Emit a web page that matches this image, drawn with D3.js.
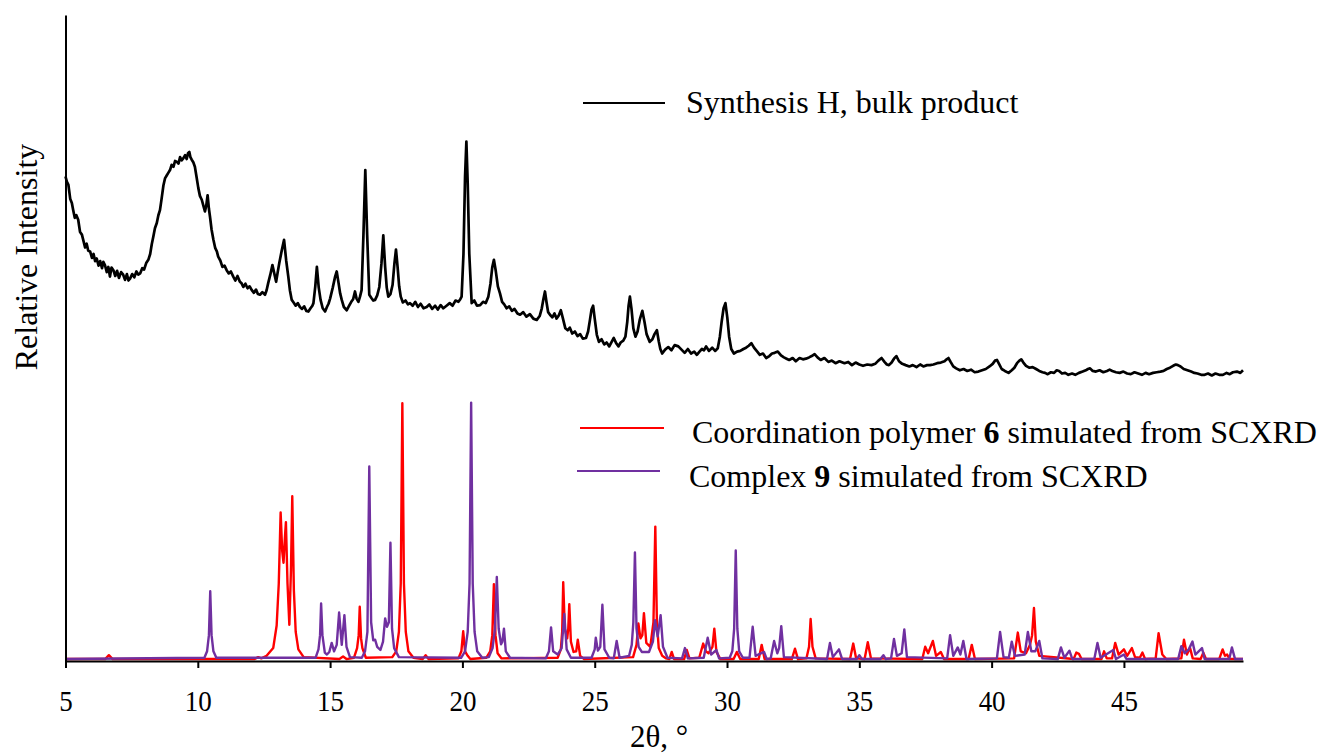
<!DOCTYPE html>
<html>
<head>
<meta charset="utf-8">
<script src="https://cdn.jsdelivr.net/npm/d3@7"></script>
<style>
  body { margin: 0; background: #fff; }
  svg text { font-family: "Liberation Serif", "Times New Roman", serif; fill: #000; }
</style>
</head>
<body>
<svg id="chart" width="1321" height="753"></svg>
<script>
// 2theta tick labels
const xTicks = [5, 10, 15, 20, 25, 30, 35, 40, 45];

// bulk product (measured), [2theta, relative intensity]
const bulkH = [
  [5.00,75.0],[5.05,74.2],[5.11,73.7],[5.18,71.5],[5.24,70.9],[5.29,69.8],[5.35,68.6],[5.41,69.0],[5.48,68.3],[5.55,66.4],
  [5.62,66.0],[5.67,65.2],[5.74,64.0],[5.80,64.6],[5.86,63.5],[5.93,63.4],[6.00,62.4],[6.06,63.0],[6.12,61.9],[6.18,62.3],
  [6.25,61.2],[6.31,61.9],[6.38,60.8],[6.43,61.8],[6.49,61.3],[6.56,60.2],[6.62,61.0],[6.68,59.5],[6.74,60.9],[6.81,60.5],
  [6.88,59.6],[6.95,60.4],[7.02,59.3],[7.10,60.2],[7.18,59.8],[7.25,59.0],[7.32,59.9],[7.38,58.9],[7.44,59.2],[7.52,59.9],
  [7.60,59.4],[7.68,60.3],[7.75,59.8],[7.82,60.0],[7.90,60.8],[7.97,60.6],[8.05,61.6],[8.13,62.1],[8.20,63.0],[8.26,64.5],
  [8.32,65.7],[8.38,67.0],[8.45,67.8],[8.51,69.0],[8.57,69.8],[8.63,71.5],[8.70,73.6],[8.76,74.7],[8.83,75.2],[8.89,75.6],
  [8.95,76.0],[9.01,76.8],[9.08,76.5],[9.14,77.4],[9.20,77.3],[9.27,77.0],[9.33,78.0],[9.39,77.5],[9.45,77.8],[9.52,78.3],
  [9.58,77.7],[9.63,78.6],[9.68,78.8],[9.72,78.0],[9.77,77.6],[9.83,77.2],[9.89,76.5],[9.95,75.0],[10.02,73.2],[10.08,72.0],
  [10.15,71.4],[10.21,70.5],[10.27,69.6],[10.32,70.5],[10.37,72.1],[10.42,70.0],[10.46,68.8],[10.52,66.8],[10.59,65.2],[10.66,63.9],
  [10.72,63.4],[10.77,62.6],[10.85,62.0],[10.93,61.0],[11.01,61.2],[11.09,60.5],[11.17,60.0],[11.25,60.3],[11.34,59.5],[11.42,58.9],
  [11.50,59.6],[11.59,58.7],[11.65,58.5],[11.72,57.9],[11.80,58.4],[11.88,57.7],[11.96,58.0],[12.04,57.4],[12.12,57.0],[12.20,57.5],
  [12.27,56.8],[12.35,56.7],[12.44,57.1],[12.54,56.7],[12.60,57.4],[12.66,58.5],[12.74,59.8],[12.82,61.3],[12.89,60.0],[12.96,58.7],
  [13.02,60.2],[13.08,61.6],[13.17,63.5],[13.26,65.2],[13.34,62.0],[13.42,59.5],[13.48,57.4],[13.55,55.9],[13.62,55.5],[13.70,55.0],
  [13.78,55.4],[13.86,54.8],[13.94,54.5],[14.02,54.9],[14.10,54.2],[14.18,54.1],[14.26,54.6],[14.33,55.0],[14.37,55.4],[14.44,58.0],
  [14.50,61.0],[14.57,57.8],[14.64,55.9],[14.72,54.6],[14.81,54.1],[14.88,54.8],[14.94,55.3],[15.00,56.1],[15.10,57.8],[15.19,59.5],
  [15.25,60.3],[15.32,58.5],[15.38,56.9],[15.44,55.9],[15.52,54.8],[15.63,54.3],[15.72,55.0],[15.80,55.6],[15.87,56.0],[15.94,57.2],
  [16.00,56.1],[16.07,55.6],[16.13,56.4],[16.19,57.4],[16.26,66.0],[16.33,76.0],[16.40,66.0],[16.48,56.7],[16.56,56.2],[16.63,55.8],
  [16.70,55.9],[16.78,56.6],[16.86,57.9],[16.94,61.5],[17.01,65.9],[17.08,61.0],[17.14,57.8],[17.20,56.4],[17.28,56.8],[17.36,58.2],
  [17.43,61.5],[17.49,63.7],[17.55,61.0],[17.61,58.0],[17.67,56.4],[17.75,55.5],[17.85,55.8],[17.94,55.2],[18.02,55.4],[18.12,55.0],
  [18.22,55.6],[18.32,54.8],[18.42,55.3],[18.53,54.6],[18.65,54.8],[18.75,55.2],[18.86,54.5],[18.97,55.0],[19.07,54.4],[19.18,55.1],
  [19.28,54.6],[19.40,55.0],[19.52,55.4],[19.63,55.0],[19.74,55.8],[19.85,55.6],[19.92,56.0],[19.97,56.4],[20.04,63.0],[20.10,75.0],
  [20.15,80.4],[20.20,74.0],[20.26,63.0],[20.35,55.4],[20.45,55.8],[20.55,55.0],[20.67,55.1],[20.78,55.6],[20.88,55.4],[20.98,56.4],
  [21.06,58.4],[21.13,61.0],[21.19,62.1],[21.26,60.4],[21.34,58.0],[21.42,56.9],[21.50,55.6],[21.58,55.2],[21.67,54.6],[21.77,54.9],
  [21.87,54.2],[21.97,54.5],[22.08,53.8],[22.18,53.6],[22.30,54.0],[22.42,53.3],[22.55,53.7],[22.68,53.0],[22.81,52.8],[22.92,53.4],
  [23.00,54.6],[23.06,56.0],[23.12,57.2],[23.18,55.5],[23.24,54.0],[23.31,53.6],[23.40,53.2],[23.48,53.8],[23.56,53.0],[23.64,53.5],
  [23.72,54.3],[23.80,53.0],[23.89,51.5],[23.98,51.2],[24.06,51.6],[24.15,50.7],[24.25,51.0],[24.35,50.3],[24.45,50.6],[24.55,49.9],
  [24.67,50.0],[24.75,51.0],[24.82,52.8],[24.88,54.4],[24.94,55.0],[25.00,53.0],[25.08,50.5],[25.16,49.4],[25.26,49.8],[25.36,49.0],
  [25.45,49.3],[25.55,48.7],[25.64,49.4],[25.72,50.0],[25.81,49.2],[25.90,48.7],[25.98,49.3],[26.08,49.6],[26.16,50.2],[26.23,52.5],
  [26.28,55.0],[26.33,56.4],[26.39,54.5],[26.46,51.5],[26.54,50.2],[26.62,51.0],[26.70,52.8],[26.80,54.2],[26.88,52.5],[26.96,50.6],
  [27.08,49.4],[27.18,49.8],[27.26,50.6],[27.35,51.2],[27.42,49.5],[27.48,48.3],[27.55,47.6],[27.66,48.2],[27.78,48.6],[27.90,48.1],
  [28.02,48.9],[28.16,48.7],[28.28,48.2],[28.40,47.7],[28.52,48.3],[28.64,47.6],[28.76,47.9],[28.86,47.4],[28.96,47.9],[29.05,48.3],
  [29.13,48.1],[29.21,48.7],[29.32,48.0],[29.44,48.5],[29.55,48.0],[29.65,48.4],[29.73,50.2],[29.80,52.6],[29.87,54.6],[29.94,55.4],
  [30.01,53.2],[30.08,50.2],[30.16,48.3],[30.26,47.6],[30.38,47.9],[30.50,48.0],[30.62,48.3],[30.72,48.5],[30.82,48.8],[30.92,49.2],
  [31.02,48.5],[31.12,48.0],[31.24,47.4],[31.36,47.6],[31.48,46.9],[31.60,47.2],[31.70,47.6],[31.80,47.7],[31.92,47.9],[32.04,47.3],
  [32.15,47.0],[32.25,46.8],[32.35,46.6],[32.48,46.9],[32.60,46.4],[32.74,46.9],[32.87,46.7],[32.98,46.8],[33.10,47.0],[33.20,47.2],
  [33.31,47.5],[33.42,47.0],[33.54,46.6],[33.68,46.9],[33.83,46.3],[33.96,46.5],[34.10,46.1],[34.25,46.4],[34.44,46.1],[34.58,46.3],
  [34.72,45.8],[34.86,46.2],[35.00,45.9],[35.14,45.7],[35.30,45.9],[35.46,45.8],[35.60,46.0],[35.72,46.5],[35.84,46.9],[35.95,46.3],
  [36.04,45.9],[36.12,45.8],[36.22,46.2],[36.31,46.8],[36.40,47.2],[36.50,46.4],[36.62,46.0],[36.75,45.8],[36.89,45.6],[37.02,45.8],
  [37.16,45.5],[37.30,45.9],[37.42,45.6],[37.56,45.8],[37.67,45.8],[37.80,45.9],[37.94,46.1],[38.08,46.2],[38.22,46.4],[38.30,46.7],
  [38.37,46.9],[38.45,46.3],[38.55,45.6],[38.66,45.3],[38.80,45.0],[38.94,45.2],[39.08,44.9],[39.22,45.1],[39.36,44.7],[39.50,44.8],
  [39.64,45.0],[39.78,45.2],[39.92,45.6],[40.04,46.0],[40.13,46.5],[40.20,46.6],[40.28,46.0],[40.38,45.2],[40.50,44.9],[40.64,44.6],
  [40.76,45.0],[40.86,45.4],[40.96,46.1],[41.05,46.5],[41.12,46.7],[41.20,46.2],[41.30,45.7],[41.42,45.4],[41.55,45.5],[41.68,45.2],
  [41.80,44.9],[41.92,44.7],[42.02,44.6],[42.12,44.4],[42.24,44.7],[42.36,44.6],[42.46,45.0],[42.55,44.9],[42.66,44.5],[42.78,44.6],
  [42.90,44.3],[43.04,44.5],[43.16,44.3],[43.30,44.6],[43.44,44.8],[43.56,45.0],[43.64,45.2],[43.72,45.3],[43.82,44.9],[43.94,44.8],
  [44.08,45.0],[44.22,44.7],[44.36,44.9],[44.46,45.1],[44.56,44.9],[44.70,44.7],[44.84,44.6],[44.98,44.8],[45.12,44.5],[45.26,44.4],
  [45.40,44.7],[45.54,44.5],[45.68,44.3],[45.82,44.6],[45.95,44.4],[46.10,44.6],[46.24,44.7],[46.38,44.8],[46.50,44.9],[46.62,45.2],
  [46.74,45.4],[46.86,45.7],[46.96,45.9],[47.04,45.8],[47.14,45.6],[47.26,45.2],[47.40,45.0],[47.54,44.8],[47.66,44.6],[47.78,44.5],
  [47.92,44.3],[48.05,44.3],[48.18,44.5],[48.32,44.2],[48.46,44.5],[48.60,44.3],[48.74,44.3],[48.88,44.6],[49.00,44.4],[49.12,44.7],
  [49.27,44.8],[49.40,44.6],[49.50,45.0]
];

// coordination polymer 6, simulated from SCXRD
const polymer6 = [
  [5,0.3],[6.5,0.3],[6.64,0.9],[6.78,0.3],[12.15,0.3],[12.28,0.6],[12.4,0.4],
  [12.6,0.8],[12.85,2.0],[12.98,5.5],[13.06,12],[13.13,23.0],[13.19,17],[13.24,15.2],[13.29,19],[13.33,21.5],[13.39,12],[13.46,5.6],
  [13.52,14],[13.57,25.5],[13.63,11],[13.7,4.5],[13.8,1.8],[14.0,0.6],
  [15.35,0.3],[15.49,0.7],[15.62,0.3],
  [15.9,0.5],[16.02,2.0],[16.08,4.0],[16.12,8.4],[16.17,3.5],[16.22,2.0],[16.35,0.5],
  [17.35,0.6],[17.5,1.5],[17.6,4.5],[17.67,12],[17.73,39.9],[17.79,12],[17.86,4.5],[17.96,1.5],[18.15,0.5],
  [18.5,0.3],[18.61,0.9],[18.72,0.3],
  [19.85,0.4],[19.96,1.5],[20.03,4.6],[20.1,1.5],[20.2,0.8],[20.3,0.3],
  [20.9,0.5],[21.05,1.5],[21.13,4],[21.19,11.9],[21.25,4],[21.33,1.2],[21.48,0.4],
  [23.6,0.5],[23.72,1.8],[23.77,4.5],[23.81,12.2],[23.87,5],[23.96,3.5],[24.0,5],[24.04,8.8],[24.1,3],[24.2,1.4],[24.3,1.5],[24.36,3.3],[24.45,0.8],[24.6,0.3],
  [26.45,0.6],[26.58,2.5],[26.65,5.8],[26.73,3.5],[26.8,4],[26.86,7.4],[26.95,2.8],[27.1,2.2],[27.22,6],[27.29,20.8],[27.35,6],[27.42,2],[27.55,0.8],[27.7,0.4],
  [27.82,0.3],[27.91,1.4],[28.0,0.3],[28.38,0.3],[28.48,1.7],[28.58,0.4],
  [28.95,0.5],[29.1,2.7],[29.2,1.5],[29.3,1.2],[29.45,2.2],[29.52,5.0],[29.6,1.4],[29.75,0.3],
  [30.25,0.3],[30.37,1.4],[30.5,0.3],[31.2,0.3],[31.31,2.5],[31.42,0.3],[32.45,0.3],[32.57,1.9],[32.68,0.3],
  [33.0,0.4],[33.1,2.2],[33.16,6.5],[33.23,2.2],[33.35,0.4],
  [34.65,0.3],[34.77,2.7],[34.88,0.4],[35.2,0.3],[35.32,2.9],[35.44,0.4],
  [37.38,0.3],[37.49,2.2],[37.6,1.2],[37.78,3.1],[37.9,0.8],[38.08,1.4],[38.2,0.3],
  [39.13,0.3],[39.25,2.5],[39.37,0.3],
  [40.85,0.4],[40.99,4.4],[41.1,1.5],[41.3,1.2],[41.45,2.5],[41.53,4],[41.6,8.2],[41.67,3],[41.8,0.8],
  [43.1,0.3],[43.2,1.3],[43.3,1.1],[43.4,0.3],[44.15,0.3],[44.25,1.5],[44.35,0.4],
  [44.55,0.4],[44.67,2.8],[44.8,1.0],[45.0,1.8],[45.12,0.8],[45.3,2.0],[45.42,0.6],[45.6,0.5],[45.7,1.3],[45.8,0.3],
  [46.2,0.4],[46.31,4.3],[46.45,1.0],[46.6,0.3],[47.17,0.4],[47.27,3.3],[47.38,1.0],[47.5,2.0],[47.6,0.4],
  [47.9,0.3],[48.0,1.3],[48.1,0.3],[48.6,0.3],[48.73,1.8],[48.82,0.8],[48.9,1.0],[49.0,0.3],[49.5,0.3]
];

// complex 9, simulated from SCXRD
const complex9 = [
  [5,0.3],[10.25,0.5],[10.35,1.5],[10.42,4],[10.47,10.8],[10.52,4],[10.59,1.5],[10.7,0.5],
  [14.45,0.5],[14.56,1.8],[14.62,4],[14.66,8.9],[14.71,4],[14.8,1.3],[14.88,1.0],[14.97,1.4],[15.06,2.8],[15.15,1.5],[15.25,2.5],[15.34,7.5],
  [15.44,2.5],[15.54,7.1],[15.62,2.2],[15.75,0.6],
  [16.2,0.5],[16.32,1.5],[16.41,4.5],[16.48,30.1],[16.55,6],[16.63,3.2],[16.7,3.3],[16.78,2.2],[16.9,1.7],[17.0,3],[17.08,6.6],[17.15,5.3],
  [17.22,6],[17.28,18.3],[17.34,5],[17.42,2],[17.6,0.6],
  [19.95,0.5],[20.1,1.5],[20.2,4.5],[20.27,12],[20.33,40.0],[20.39,12],[20.46,4.5],[20.56,1.5],[20.75,0.5],
  [21.0,0.6],[21.14,2],[21.23,5],[21.3,13.0],[21.37,5],[21.46,2.6],[21.51,3],[21.57,5.0],[21.64,1.5],[21.8,0.5],
  [23.15,0.4],[23.27,1.5],[23.35,5.2],[23.43,1.5],[23.6,1.0],[23.75,2.0],[23.85,7.3],[23.94,1.8],[24.1,0.5],
  [24.88,0.5],[25.0,1.8],[25.04,3.6],[25.12,1.6],[25.21,2.2],[25.29,8.7],[25.37,1.8],[25.55,0.5],[25.72,0.4],[25.83,3.1],[25.94,0.5],
  [26.3,0.8],[26.4,2.5],[26.46,6],[26.52,16.8],[26.58,5],[26.66,2.2],[26.78,1.4],[27.05,1.4],[27.2,3],[27.28,6.3],[27.38,3.8],[27.49,7.1],[27.58,2.2],[27.75,0.5],
  [28.3,0.4],[28.41,2.0],[28.52,0.4],[29.12,0.5],[29.27,3.6],[29.4,1.0],[29.6,1.7],[29.7,0.4],
  [30.1,0.5],[30.2,1.5],[30.27,5],[30.33,17.1],[30.39,5],[30.46,1.5],[30.6,0.5],
  [30.85,0.5],[30.97,5.3],[31.08,0.8],[31.4,1.4],[31.5,0.3],
  [31.65,0.4],[31.78,3.1],[31.9,1.2],[31.97,2],[32.05,5.4],[32.15,0.6],
  [33.78,0.3],[33.89,2.8],[34.0,0.6],[34.23,1.8],[34.35,0.3],[34.9,0.3],[35.0,0.9],[35.1,0.3],
  [35.8,0.3],[35.91,0.9],[36.0,0.3],[36.2,0.4],[36.31,3.4],[36.42,0.8],[36.6,1.2],[36.7,4.9],[36.8,0.6],
  [38.32,0.4],[38.43,4.0],[38.55,0.8],[38.72,2.1],[38.82,1.0],[38.93,3.1],[39.05,0.3],
  [40.2,0.4],[40.32,4.5],[40.45,0.6],[40.65,0.5],[40.76,3.0],[40.88,0.8],[41.25,1.0],[41.37,4.5],[41.5,1.5],[41.65,1.5],[41.8,3.1],[41.92,0.4],
  [42.5,0.3],[42.62,2.1],[42.75,0.5],[42.94,1.6],[43.05,0.3],
  [43.88,0.3],[44.0,2.8],[44.12,0.5],[44.6,1.7],[44.7,0.3],[45.0,1.0],[45.1,0.3],
  [47.05,0.3],[47.17,2.3],[47.3,1.2],[47.45,1.8],[47.59,3.0],[47.7,1.0],[47.95,2.0],[48.05,0.3],
  [48.98,0.3],[49.08,2.1],[49.2,0.3],[49.5,0.3]
];

const seriesColors = ["#000000", "#ff0000", "#7030a0"];

const svg = d3.select("#chart");

const x = d3.scaleLinear().domain([5, 49.5]).range([65.5, 1243]);
const y = d3.scaleLinear().domain([0, 100]).range([661, 15]);

const line = d3.line()
    .x(d => x(d[0]))
    .y(d => y(d[1]));

// simulated patterns first, measured on top
svg.append("path")
    .datum(polymer6)
    .attr("fill", "none")
    .attr("stroke", seriesColors[1])
    .attr("stroke-width", 2.4)
    .attr("stroke-linejoin", "round")
    .attr("d", line);

svg.append("path")
    .datum(complex9)
    .attr("fill", "none")
    .attr("stroke", seriesColors[2])
    .attr("stroke-width", 2.4)
    .attr("stroke-linejoin", "round")
    .attr("d", line);

svg.append("path")
    .datum(bulkH)
    .attr("fill", "none")
    .attr("stroke", seriesColors[0])
    .attr("stroke-width", 2.7)
    .attr("stroke-linejoin", "round")
    .attr("d", line);

// axes
const xAxis = svg.append("g")
    .attr("transform", `translate(0,${y(0)})`)
    .attr("font-family", "Liberation Serif")
    .attr("font-size", 27)
    .call(d3.axisBottom(x).tickValues(xTicks).tickSize(7).tickSizeOuter(0).tickPadding(20));
xAxis.attr("font-family", "Liberation Serif").attr("font-size", 27);
xAxis.select(".domain").attr("stroke-width", 2);
xAxis.selectAll(".tick line").attr("stroke-width", 2);
xAxis.selectAll(".tick text")
    .attr("font-size", 27)
    .attr("transform", "scale(1,1.08)");

const yAxis = svg.append("g")
    .attr("transform", `translate(${x(5)},0)`)
    .call(d3.axisLeft(y).tickValues([]).tickSizeOuter(0));
yAxis.select(".domain").attr("stroke-width", 2);

// axis titles
svg.append("text")
    .attr("x", 659)
    .attr("y", 747)
    .attr("text-anchor", "middle")
    .attr("font-size", 31)
    .text("2θ, °");

svg.append("text")
    .attr("transform", "translate(37,257) rotate(-90)")
    .attr("text-anchor", "middle")
    .attr("font-size", 32)
    .text("Relative Intensity");

// legend
const legendRows = [
  { x1: 583, x2: 665, ly: 103, tx: 686, ty: 113, parts: ["Synthesis H, bulk product"] },
  { x1: 580, x2: 664, ly: 428, tx: 692, ty: 443, parts: ["Coordination polymer ", "6", " simulated from SCXRD"] },
  { x1: 577, x2: 660, ly: 471, tx: 689, ty: 487, parts: ["Complex ", "9", " simulated from SCXRD"] }
];

legendRows.forEach((r, i) => {
  svg.append("line")
      .attr("x1", r.x1).attr("x2", r.x2)
      .attr("y1", r.ly).attr("y2", r.ly)
      .attr("stroke", seriesColors[i])
      .attr("stroke-width", 2);
  const t = svg.append("text")
      .attr("x", r.tx)
      .attr("y", r.ty)
      .attr("font-size", 32);
  r.parts.forEach((p, j) => {
    t.append("tspan")
        .attr("font-weight", j === 1 ? "bold" : null)
        .text(p);
  });
});
</script>
</body>
</html>
